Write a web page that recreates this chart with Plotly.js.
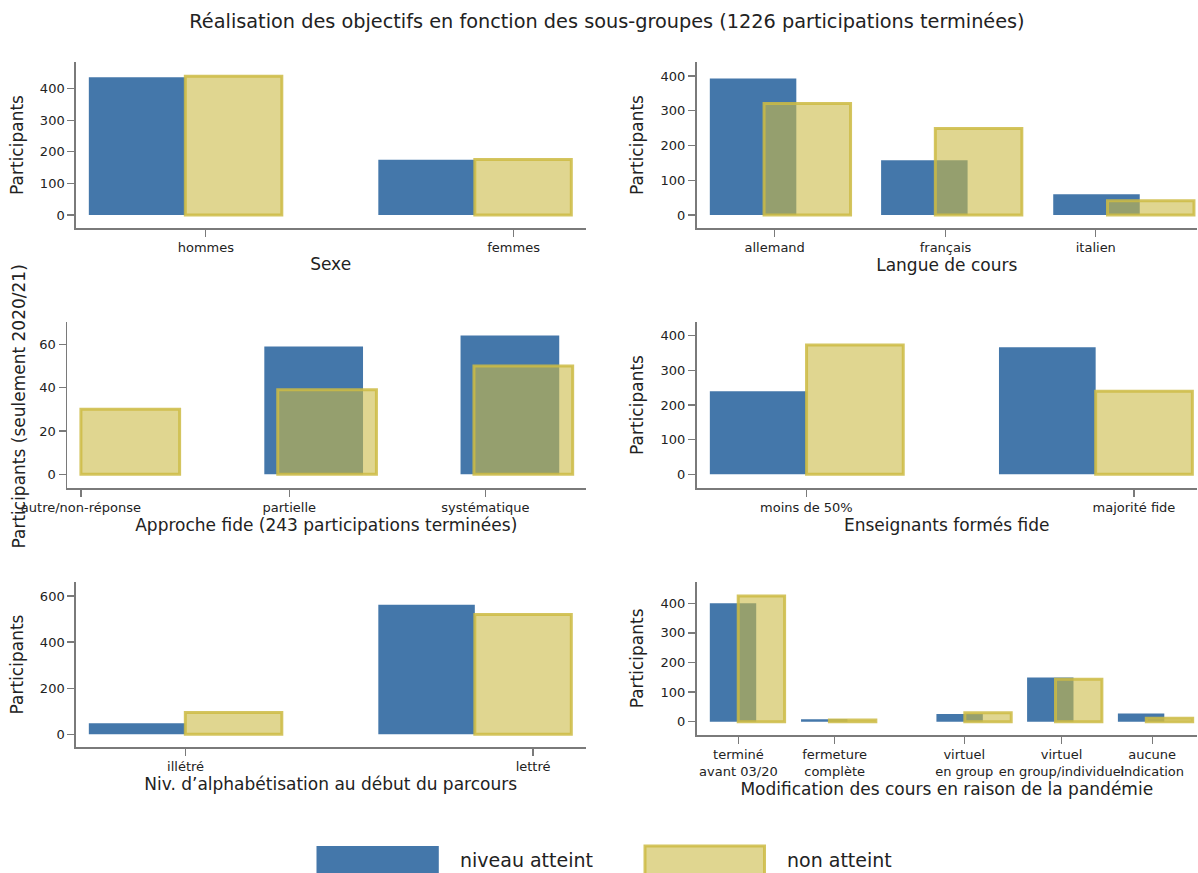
<!DOCTYPE html>
<html lang="fr">
<head>
<meta charset="utf-8">
<script src="https://cdn.plot.ly/plotly-3.0.1.min.js"></script>
<style>
  html, body { margin: 0; padding: 0; background: #fff; }
  #chart { width: 1198px; height: 873px; }
</style>
</head>
<body>
<div id="chart"></div>
<script>
// ---- Data: participants per sub-group, goal reached vs. not reached ----
const seriesNames = ['niveau atteint', 'non atteint'];

const sexeCategories = ['hommes', 'femmes'];
const sexeAtteint = [436, 175];
const sexeNonAtteint = [439, 176];

const langueCategories = ['allemand', 'français', 'italien'];
const langueAtteint = [393, 158, 60];
const langueNonAtteint = [321, 249, 41];

const approcheCategories = ['autre/non-réponse', 'partielle', 'systématique'];
const approcheAtteint = [0, 59, 64];
const approcheNonAtteint = [30, 39, 50];

const enseignantsCategories = ['moins de 50%', 'majorité fide'];
const enseignantsAtteint = [240, 367];
const enseignantsNonAtteint = [373, 240];

const alphaCategories = ['illétré', 'lettré'];
const alphaAtteint = [48, 562];
const alphaNonAtteint = [95, 520];

const pandemieCategories = ['terminé<br>avant 03/20', 'fermeture<br>complète', 'virtuel<br>en group',
                            'virtuel<br>en group/individuel', 'aucune<br>indication'];
const pandemieAtteint = [400, 8, 26, 149, 28];
const pandemieNonAtteint = [425, 6, 30, 143, 12];

// ---- Figure geometry ----
const W = 1198, H = 873;
const FONT = 'DejaVu Sans, Verdana, sans-serif';
const BLUE = '#4477aa';
const YELLOW_FILL = 'rgba(204,187,70,0.6)';
const YELLOW_LINE = 'rgba(204,187,68,0.85)';
const AXIS_GREY = '#7a7a7a';
const TEXT = '#222';

const px2x = p => p / W;
const px2y = p => 1 - p / H;

// Each panel: pixel box of the plot area, slot layout (in bar widths), value axis range.
const panels = [
  { cats: sexeCategories, a: sexeAtteint, n: sexeNonAtteint, xTitle: 'Sexe', yTitle: 'Participants',
    box: [75.8, 585.5, 61.7, 228.3], xr: [-0.135, 5.147], slots: [0, 3], shift: 1,
    ticks: [1.213, 4.402], yr: [-42, 485], dtick: 100 },
  { cats: langueCategories, a: langueAtteint, n: langueNonAtteint, xTitle: 'Langue de cours', yTitle: 'Participants',
    box: [696.5, 1197, 61.7, 228.3], xr: [-0.154, 5.632], slots: [0, 1.98, 3.97], shift: 0.627,
    ticks: [0.75, 2.725, 4.462], yr: [-38, 441], dtick: 100 },
  { cats: approcheCategories, a: approcheAtteint, n: approcheNonAtteint,
    xTitle: 'Approche fide (243 participations terminées)', yTitle: null,
    box: [67, 585.5, 321.7, 488.3], xr: [-0.005, 5.248], slots: [0, 1.994, 3.982], shift: 0.136,
    ticks: [0.136, 2.247, 4.234], yr: [-6.46, 70.4], dtick: 20 },
  { cats: enseignantsCategories, a: enseignantsAtteint, n: enseignantsNonAtteint,
    xTitle: 'Enseignants formés fide', yTitle: 'Participants',
    box: [696.5, 1197, 321.7, 488.3], xr: [-0.138, 5.038], slots: [0, 2.99], shift: 1,
    ticks: [0.998, 4.386], yr: [-40.4, 440.4], dtick: 100 },
  { cats: alphaCategories, a: alphaAtteint, n: alphaNonAtteint,
    xTitle: 'Niv. d\u2019alphabétisation au début du parcours', yTitle: 'Participants',
    box: [75.8, 585.5, 581.7, 747.3], xr: [-0.135, 5.147], slots: [0, 3], shift: 1,
    ticks: [1.003, 4.604], yr: [-56.4, 662], dtick: 200 },
  { cats: pandemieCategories, a: pandemieAtteint, n: pandemieNonAtteint,
    xTitle: 'Modification des cours en raison de la pandémie', yTitle: 'Participants',
    box: [696.5, 1197, 581.7, 735], xr: [-0.287, 10.5], slots: [0, 1.966, 4.884, 6.838, 8.795], shift: 0.612,
    ticks: [0.616, 2.69, 5.483, 7.58, 9.534], yr: [-45, 473], dtick: 100 }
];

const traces = [];
const layout = {
  width: W, height: H,
  margin: { l: 0, r: 0, t: 0, b: 0 },
  paper_bgcolor: '#fff', plot_bgcolor: '#fff',
  showlegend: false,
  barmode: 'overlay',
  font: { family: FONT, color: TEXT },
  title: {
    text: 'Réalisation des objectifs en fonction des sous-groupes (1226 participations terminées)',
    font: { family: FONT, size: 19.3, color: TEXT },
    x: 607 / W, xanchor: 'center', y: 1 - 21 / H, yanchor: 'middle'
  },
  shapes: [],
  annotations: []
};

panels.forEach((p, i) => {
  const k = i + 1;
  const xa = 'x' + (k === 1 ? '' : k);
  const ya = 'y' + (k === 1 ? '' : k);
  const xKey = 'xaxis' + (k === 1 ? '' : k);
  const yKey = 'yaxis' + (k === 1 ? '' : k);

  traces.push({
    type: 'bar', name: seriesNames[0], xaxis: xa, yaxis: ya,
    x: p.slots, y: p.a, width: 1, offset: 0,
    marker: { color: BLUE, line: { width: 0 } },
    hoverinfo: 'skip'
  });
  traces.push({
    type: 'bar', name: seriesNames[1], xaxis: xa, yaxis: ya,
    x: p.slots, y: p.n, width: 1, offset: p.shift,
    marker: { color: YELLOW_FILL, line: { color: YELLOW_LINE, width: 3 } },
    hoverinfo: 'skip'
  });

  layout[xKey] = {
    domain: [px2x(p.box[0]), px2x(p.box[1])],
    anchor: ya, range: p.xr, fixedrange: true,
    showgrid: false, zeroline: false,
    showline: true, linecolor: AXIS_GREY, linewidth: 1.5,
    ticks: 'outside', ticklen: 7, tickwidth: 1.2, tickcolor: AXIS_GREY,
    tickmode: 'array', tickvals: p.ticks, ticktext: p.cats, tickangle: 0,
    tickfont: { family: FONT, size: 13, color: TEXT },
    title: { text: p.xTitle, font: { family: FONT, size: 17, color: TEXT }, standoff: 3 },
    automargin: false
  };
  layout[yKey] = {
    domain: [px2y(p.box[3]), px2y(p.box[2])],
    anchor: xa, range: p.yr, fixedrange: true,
    showgrid: false, zeroline: false,
    showline: true, linecolor: AXIS_GREY, linewidth: 1.5,
    ticks: 'outside', ticklen: 7, tickwidth: 1.2, tickcolor: AXIS_GREY,
    tick0: 0, dtick: p.dtick,
    tickfont: { family: FONT, size: 13, color: TEXT },
    title: p.yTitle ? { text: p.yTitle, font: { family: FONT, size: 17, color: TEXT }, standoff: 12 } : { text: '' },
    automargin: false
  };
});

// Long value-axis title of the "Approche fide" panel, centred on its plot area
layout.annotations.push({
  xref: 'paper', yref: 'paper', x: px2x(18.5), y: px2y(407),
  xanchor: 'center', yanchor: 'middle', textangle: -90, showarrow: false,
  text: 'Participants (seulement 2020/21)',
  font: { family: FONT, size: 17, color: TEXT }
});

// Legend swatches and labels along the bottom
const legendItems = [
  { x0: 316.5, x1: 438.8, fill: BLUE, line: { width: 0 }, label: seriesNames[0], tx: 458 },
  { x0: 645, x1: 764.5, fill: YELLOW_FILL, line: { color: YELLOW_LINE, width: 3 }, label: seriesNames[1], tx: 785 }
];
legendItems.forEach(it => {
  layout.shapes.push({
    type: 'rect', xref: 'paper', yref: 'paper',
    x0: px2x(it.x0), x1: px2x(it.x1), y0: px2y(880), y1: px2y(846),
    fillcolor: it.fill, line: it.line, layer: 'above'
  });
  layout.annotations.push({
    xref: 'paper', yref: 'paper', x: px2x(it.tx), y: px2y(860),
    xanchor: 'left', yanchor: 'middle', showarrow: false,
    text: it.label, font: { family: FONT, size: 19, color: TEXT }
  });
});

Plotly.newPlot('chart', traces, layout, { displayModeBar: false, staticPlot: true });
</script>
</body>
</html>
